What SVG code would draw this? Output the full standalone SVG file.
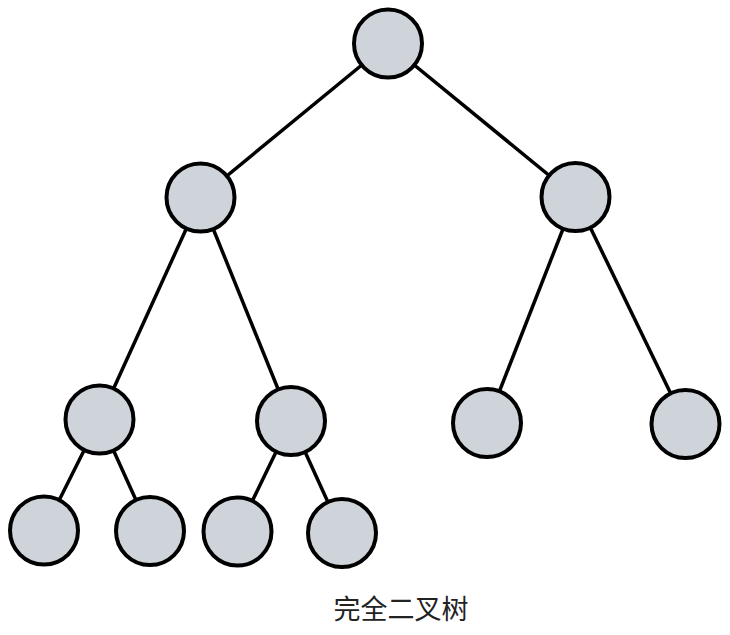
<svg xmlns="http://www.w3.org/2000/svg" width="730" height="635" viewBox="0 0 730 635">
<style>
.n{fill:#cfd4db;stroke:#000;stroke-width:4}
.e{stroke:#000;stroke-width:3.5;fill:none}
.t{font-family:"Noto Sans CJK SC","Noto Sans",sans-serif;font-size:27px;fill:#222}
</style>
<rect width="730" height="635" fill="#fff"/>
<g id="edges" class="e">
<line x1="388" y1="43.5" x2="200.5" y2="197.5"/>
<line x1="388" y1="43.5" x2="575.5" y2="197"/>
<line x1="200.5" y1="197.5" x2="99.5" y2="419.5"/>
<line x1="200.5" y1="197.5" x2="291" y2="421"/>
<line x1="575.5" y1="197" x2="487" y2="423"/>
<line x1="575.5" y1="197" x2="685.5" y2="424"/>
<line x1="99.5" y1="419.5" x2="44" y2="530.5"/>
<line x1="99.5" y1="419.5" x2="150" y2="531"/>
<line x1="291" y1="421" x2="237.5" y2="531.5"/>
<line x1="291" y1="421" x2="342" y2="533"/>
</g>
<g id="root"><circle class="n" cx="388" cy="43.5" r="34"/></g>
<g id="l1a"><circle class="n" cx="200.5" cy="197.5" r="34"/></g>
<g id="l1b"><circle class="n" cx="575.5" cy="197" r="34"/></g>
<g id="l2a"><circle class="n" cx="99.5" cy="419.5" r="34"/></g>
<g id="l2b"><circle class="n" cx="291" cy="421" r="34"/></g>
<g id="l2c"><circle class="n" cx="487" cy="423" r="34"/></g>
<g id="l2d"><circle class="n" cx="685.5" cy="424" r="34"/></g>
<g id="l3a"><circle class="n" cx="44" cy="530.5" r="34"/></g>
<g id="l3b"><circle class="n" cx="150" cy="531" r="34"/></g>
<g id="l3c"><circle class="n" cx="237.5" cy="531.5" r="34"/></g>
<g id="l3d"><circle class="n" cx="342" cy="533" r="34"/></g>
<text class="t" x="401" y="619" text-anchor="middle">完全二叉树</text>
</svg>
